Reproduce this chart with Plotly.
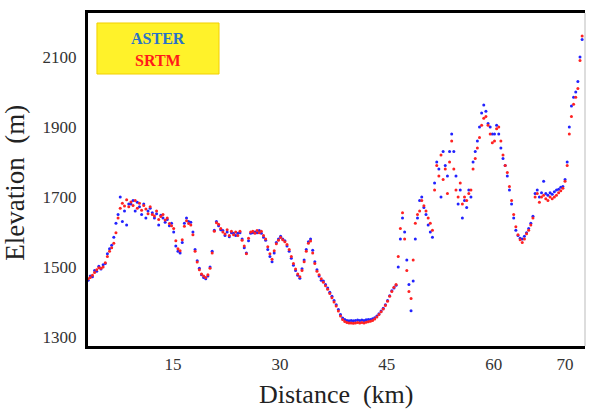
import numpy as np
import plotly.graph_objects as go

# sampling distance along the profile (km)
distance_km = np.round(np.arange(3.1, 72.41, 0.3), 2)

srtm_elev = [
    1466, 1470, 1476, 1484, 1492, 1498, 1496, 1500, 1512, 1530,
    1545, 1555, 1568, 1598, 1640, 1668, 1682, 1674, 1692, 1672,
    1686, 1676, 1690, 1668, 1682, 1662, 1676, 1666, 1652, 1672,
    1650, 1646, 1660, 1636, 1644, 1650, 1634, 1640, 1624, 1618,
    1610, 1575, 1552, 1546, 1578, 1616, 1632, 1624, 1620, 1592,
    1545, 1514, 1492, 1480, 1474, 1470, 1478, 1496, 1540, 1602,
    1626, 1622, 1610, 1600, 1594, 1606, 1590, 1602, 1592, 1600,
    1590, 1602, 1576, 1560, 1538, 1582, 1600, 1602, 1596, 1604,
    1598, 1602, 1590, 1580, 1558, 1538, 1522, 1546, 1566, 1576,
    1584, 1578, 1572, 1564, 1550, 1530, 1510, 1494, 1480, 1472,
    1490, 1515, 1545, 1568, 1574, 1540, 1510, 1488, 1478, 1466,
    1456, 1446, 1436, 1424, 1412, 1400, 1388, 1374, 1360, 1350,
    1344, 1341, 1340, 1340, 1339, 1340, 1341, 1340, 1341, 1340,
    1342, 1343, 1345, 1347, 1351, 1357, 1364, 1372, 1380, 1390,
    1402, 1416, 1430, 1442, 1450, 1530, 1610, 1655, 1580, 1490,
    1430, 1410, 1520, 1625, 1650, 1660, 1690, 1675, 1660, 1640,
    1625, 1605, 1720, 1790, 1760, 1820, 1750, 1780, 1710, 1800,
    1860, 1780, 1720, 1700, 1740, 1680, 1700, 1690, 1710, 1720,
    1780, 1810, 1840, 1870, 1905, 1925, 1930, 1905, 1880, 1855,
    1860, 1895, 1900, 1860, 1820, 1790, 1770, 1730, 1690, 1650,
    1615, 1592, 1578, 1570, 1580, 1595, 1605, 1620, 1640, 1700,
    1710, 1685, 1700, 1705, 1695, 1690, 1700, 1695, 1700, 1705,
    1712, 1718, 1725, 1745, 1790, 1880, 1930, 1965, 1985, 2010,
    2090, 2160,
]

aster_elev = [
    1462, 1474, 1472, 1490, 1488, 1502, 1494, 1506, 1510, 1538,
    1552, 1562, 1585, 1625, 1650, 1700, 1630, 1660, 1620, 1680,
    1680, 1690, 1660, 1685, 1672, 1650, 1680, 1640, 1660, 1668,
    1655, 1640, 1652, 1620, 1648, 1640, 1628, 1636, 1618, 1625,
    1600, 1560, 1545, 1540, 1570, 1625, 1640, 1630, 1628, 1600,
    1550, 1518, 1496, 1478, 1470, 1466, 1474, 1500, 1545, 1605,
    1630, 1618, 1606, 1604, 1590, 1600, 1586, 1598, 1596, 1590,
    1596, 1598, 1580, 1555, 1540, 1575, 1596, 1598, 1600, 1598,
    1604, 1596, 1585, 1576, 1550, 1530, 1515, 1540, 1570, 1580,
    1588, 1580, 1575, 1560, 1545, 1525, 1505, 1490, 1476, 1468,
    1495, 1520, 1550, 1572, 1580, 1548, 1515, 1492, 1474, 1462,
    1460, 1450, 1440, 1428, 1416, 1404, 1392, 1378, 1364, 1354,
    1350, 1347, 1346, 1347, 1346, 1347, 1348, 1347, 1348, 1347,
    1349, 1350, 1350, 1352, 1355, 1360, 1366, 1374, 1382, 1392,
    1404, 1418, 1432, 1440, 1448, 1500, 1580, 1640, 1600, 1520,
    1450, 1375, 1460, 1580, 1640, 1690, 1700, 1670, 1650, 1620,
    1600, 1585, 1740, 1800, 1780, 1700, 1830, 1790, 1760, 1830,
    1880, 1830, 1760, 1680, 1720, 1640, 1690, 1670, 1720, 1700,
    1800, 1830, 1860, 1900, 1940, 1963, 1945, 1910, 1900, 1880,
    1880, 1905, 1880, 1840, 1810, 1790, 1760, 1720, 1680, 1640,
    1605, 1590, 1582, 1580, 1588, 1598, 1610, 1625, 1645, 1710,
    1720, 1700, 1712, 1745, 1710, 1705, 1712, 1708, 1715, 1720,
    1722, 1728, 1730, 1750, 1800, 1900, 1960, 1985, 2000, 2030,
    2100, 2150,
]

x_tick_vals = [15, 30, 45, 60, 70]
y_tick_vals = [1300, 1500, 1700, 1900, 2100]

FONT = "Liberation Serif"

fig = go.Figure()
fig.add_trace(go.Scatter(
    x=distance_km, y=aster_elev, mode="markers", name="ASTER",
    marker=dict(color="#2222ff", size=3, line=dict(width=0)),
))
fig.add_trace(go.Scatter(
    x=distance_km, y=srtm_elev, mode="markers", name="SRTM",
    marker=dict(color="#ff2222", size=3, line=dict(width=0)),
))

fig.update_layout(
    width=590, height=410,
    margin=dict(l=88, r=5, t=13, b=64),
    paper_bgcolor="white", plot_bgcolor="white",
    showlegend=False,
    font=dict(family=FONT, color="#333333"),
    xaxis=dict(
        range=[3.08, 72.8], tickvals=x_tick_vals,
        ticktext=[str(v) for v in x_tick_vals],
        showgrid=False, zeroline=False, ticks="",
        showline=True, linecolor="black", linewidth=3, mirror=True,
        tickfont=dict(family=FONT, size=17, color="#333333"),
        ticklabelstandoff=1, automargin=False,
    ),
    yaxis=dict(
        range=[1274, 2226], tickvals=y_tick_vals,
        showgrid=False, zeroline=False, ticks="",
        showline=True, linecolor="black", linewidth=3,
        tickfont=dict(family=FONT, size=17, color="#333333"),
        ticklabelstandoff=5, automargin=False,
    ),
    shapes=[
        dict(type="line", xref="paper", yref="paper", x0=1, x1=1, y0=0, y1=1,
             line=dict(color="#bbbbbb", width=1)),
        dict(type="rect", xref="paper", yref="paper", x0=0.018, x1=0.2636,
             y0=0.8168, y1=0.97, fillcolor="#fff22a", line=dict(color="#f2d000", width=1)),
    ],
    annotations=[
        dict(text="<b>ASTER</b>", xref="paper", yref="paper", x=0.141, y=0.922,
             xanchor="center", yanchor="middle",
             showarrow=False, font=dict(family=FONT, size=16, color="#2a72c8")),
        dict(text="<b>SRTM</b>", xref="paper", yref="paper", x=0.141, y=0.856,
             xanchor="center", yanchor="middle",
             showarrow=False, font=dict(family=FONT, size=16, color="#ff1a1a")),
        dict(text="Elevation  (m)", xref="paper", yref="paper", x=-0.147, y=0.49,
             textangle=-90, showarrow=False, xanchor="center", yanchor="middle",
             font=dict(family=FONT, size=27, color="#222222")),
        dict(text="Distance  (km)", xref="paper", yref="paper", x=0.5, y=-0.146,
             showarrow=False, xanchor="center", yanchor="middle",
             font=dict(family=FONT, size=26, color="#222222")),
    ],
)

fig.write_html("out.html",
               config={"displayModeBar": False},
               post_script="document.body.style.margin='0px';document.body.style.overflow='hidden';")
